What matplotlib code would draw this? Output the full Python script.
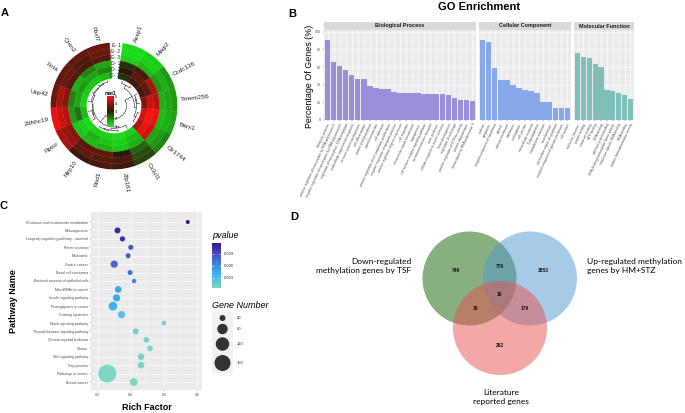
import numpy as np
import matplotlib
matplotlib.use('Agg')
import matplotlib.pyplot as plt
from matplotlib.colors import LinearSegmentedColormap, Normalize
from matplotlib.patches import Circle, Rectangle

plt.rcParams['font.family'] = ['Liberation Sans', 'DejaVu Sans']

W, H = 685, 413

# ---------------- data ----------------
# A: circular heatmap (tracks outer -> inner)
genes = ["Assp1", "Magi2", "Ccdc136", "Tmem256", "Barx1", "Olr1744", "Cx3cl1", "Zfp161",
         "Rnd1", "Nlrp10", "Rptor", "Zdhhc19", "Usp42", "Fnta", "Cntn2", "Fbxl7"]
tracks = ["E- 1", "E- 2", "E- 3", "D- 1", "D- 2", "D- 3"]
mat1 = [
    [1.2, 1.2, 1.3, 2.8, 3.0, 2.8],
    [1.3, 1.3, 1.5, 3.3, 3.5, 3.2],
    [1.8, 1.6, 1.8, 4.2, 3.5, 3.3],
    [1.8, 1.7, 1.6, 4.3, 4.5, 3.8],
    [1.7, 1.6, 1.5, 4.8, 5.0, 4.6],
    [2.0, 1.8, 1.7, 4.5, 4.8, 4.2],
    [2.6, 2.5, 2.3, 1.6, 1.5, 1.3],
    [3.2, 3.3, 3.0, 1.4, 1.3, 1.2],
    [3.3, 3.4, 3.5, 1.6, 1.4, 1.3],
    [3.2, 3.5, 3.4, 1.5, 1.6, 1.3],
    [4.2, 4.0, 3.8, 1.4, 1.3, 1.2],
    [4.8, 4.5, 4.3, 1.8, 2.2, 1.5],
    [3.6, 4.2, 3.9, 2.0, 1.7, 1.3],
    [3.5, 3.6, 3.4, 1.6, 1.8, 1.4],
    [3.5, 3.4, 3.3, 2.0, 1.7, 1.4],
    [3.6, 3.6, 3.4, 1.7, 2.0, 1.5],
]
gene_tree = [[[0, 1], [[2, 3], [4, 5]]], [[6, [7, [8, 9]]], [[10, 11], [12, [13, [14, 15]]]]]]

# B: GO enrichment
bp_terms = ["biological_process", "positive regulation of transcription by RNA polymerase II",
            "negative regulation of transcription by RNA polymerase II",
            "regulation of transcription, DNA-templated", "multicellular organism development",
            "nervous system development", "cell differentiation", "protein phosphorylation",
            "signal transduction", "cell adhesion", "positive regulation of cell population proliferation",
            "negative regulation of apoptotic process", "positive regulation of gene expression",
            "cell migration", "intracellular signal transduction", "angiogenesis",
            "cell surface receptor signaling pathway", "ion transmembrane transport", "axon guidance",
            "cellular response to insulin stimulus", "heart development", "regulation of cell shape",
            "positive regulation of GTPase activity", "protein ubiquitination",
            "transcription by RNA polymerase II"]
bp_vals = [91, 66, 61, 57, 51, 47, 46, 38, 36, 35, 35, 32, 31, 31, 31, 30.5, 30, 29.5, 29, 29,
           28, 24.5, 23, 22.5, 22]
cc_terms = ["nucleus", "cytoplasm", "integral component of membrane", "cytosol", "plasma membrane",
            "membrane", "nucleoplasm", "cell junction", "extracellular exosome", "Golgi apparatus",
            "endoplasmic reticulum", "mitochondrion", "perinuclear region of cytoplasm",
            "integral component of plasma membrane", "cell surface"]
cc_vals = [90.5, 88, 59, 45, 45, 40, 36.5, 34, 32.3, 31, 20.5, 20.5, 14, 14, 14]
mf_terms = ["molecular_function", "protein binding", "metal ion binding", "ATP binding", "DNA binding",
            "identical protein binding", "DNA-binding transcription factor activity",
            "sequence-specific DNA binding", "RNA binding", "protein homodimerization activity"]
mf_vals = [75.7, 71.5, 70.3, 64, 60, 34, 33, 31, 28.5, 24]

# C: KEGG dot plot
pathways = ["Nicotinate and nicotinamide metabolism", "Melanogenesis",
            "Longevity regulating pathway - mammal", "Renin secretion", "Melanoma", "Gastric cancer",
            "Basal cell carcinoma", "Bacterial invasion of epithelial cells", "MicroRNAs in cancer",
            "Insulin signaling pathway", "Proteoglycans in cancer", "Cushing syndrome",
            "Notch signaling pathway", "Thyroid hormone signaling pathway", "Chronic myeloid leukemia",
            "Glioma", "Wnt signaling pathway", "Gap junction", "Pathways in cancer", "Breast cancer"]
rich_factor = [0.572, 0.36, 0.375, 0.40, 0.392, 0.35, 0.398, 0.41, 0.362, 0.357, 0.346, 0.372,
               0.50, 0.415, 0.447, 0.458, 0.431, 0.431, 0.329, 0.409]
gene_number = [29, 40, 36, 34, 34, 49, 34, 31, 44, 49, 61, 49, 32, 40, 38, 38, 44, 44, 195, 55]
pvalue = [0.0117, 0.0105, 0.0102, 0.0085, 0.0082, 0.0078, 0.0072, 0.0062, 0.0045, 0.0042, 0.0040,
          0.0025, 0.0012, 0.0010, 0.0008, 0.0007, 0.0006, 0.0006, 0.0004, 0.0004]
size_breaks = [40, 80, 120, 160]
p_breaks = [0.003, 0.006, 0.009]

# D: Venn counts (membership: TSF, HM+STZ, literature)
venn_sets = ["Down-regulated\nmethylation genes by TSF", "Up-regulated methylation\ngenes by HM+STZ",
             "Literature\nreported genes"]
venn_counts = {(1, 0, 0): 749, (1, 1, 0): 776, (0, 1, 0): 3653, (1, 1, 1): 19,
               (1, 0, 1): 35, (0, 1, 1): 179, (0, 0, 1): 262}


def box(x0, y0, x1, y1):
    # pixel box (top-left origin) -> figure rect
    return [x0 / W, 1 - y1 / H, (x1 - x0) / W, (y1 - y0) / H]


fig = plt.figure(figsize=(W / 100, H / 100), dpi=100)

# ================= A =================
heat_cmap = LinearSegmentedColormap.from_list('gbr', ['#19f019', '#2a1a0c', '#ff1010'])
heat_norm = Normalize(1, 5)
vals = np.array(mat1)

cx, cy, R = 114, 106, 63.5
axA = fig.add_axes(box(cx - R, cy - R, cx + R, cy + R), projection='polar')
axA.set_theta_zero_location('N')
axA.set_theta_direction(-1)
axA.set_ylim(0, R)
axA.axis('off')

gap, start = 12, 8
sw = (360 - gap) / len(genes)
r_in, tw = 27.5, 6.0
for i, g in enumerate(genes):
    th = np.radians(start + i * sw)
    for j in range(len(tracks)):
        col = heat_cmap(heat_norm(vals[i, j]))
        axA.bar(th, tw, width=np.radians(sw), bottom=r_in + (len(tracks) - 1 - j) * tw,
                align='edge', color=col, edgecolor=col, linewidth=0.2)
    a = start + (i + 0.5) * sw
    if a < 180:
        rot, ha = 90 - a, 'left'
    else:
        rot, ha = 270 - a, 'right'
    axA.text(np.radians(a), 67, g, rotation=rot, rotation_mode='anchor', ha=ha, va='center',
             fontsize=4.6, color='#222222')

for j, lab in enumerate(tracks):
    axA.text(np.radians(start - gap / 2), r_in + (len(tracks) - 0.5 - j) * tw, lab,
             ha='center', va='center', fontsize=3.6, color='#222222')

# dendrogram inside
leaf_r, root_r = 26.0, 12.5


def members(node):
    return [node] if isinstance(node, int) else sum((members(k) for k in node), [])


def link_h(a, b):
    return np.mean([np.linalg.norm(vals[p] - vals[q]) for p in a for q in b])


hmax = link_h(members(gene_tree[0]), members(gene_tree[1]))


def draw_node(node):
    if isinstance(node, int):
        return start + (node + 0.5) * sw, leaf_r
    kids = [draw_node(k) for k in node]
    h = link_h(members(node[0]), members(node[1]))
    r = min(leaf_r - h / hmax * (leaf_r - root_r), min(k[1] for k in kids) - 0.8)
    for ka, kr in kids:
        axA.plot([np.radians(ka)] * 2, [kr, r], color='k', lw=0.35)
    t = np.radians(np.linspace(kids[0][0], kids[1][0], 40))
    axA.plot(t, np.full_like(t, r), color='k', lw=0.35)
    return np.mean([k[0] for k in kids]), r


draw_node(gene_tree)

axL = fig.add_axes(box(107, 96, 113, 126))
axL.imshow(np.linspace(5, 1, 100)[:, None], cmap=heat_cmap, norm=heat_norm, aspect='auto',
           extent=[0, 1, 1, 5])
axL.set_xticks([])
axL.yaxis.tick_right()
axL.set_yticks([1, 2, 3, 4, 5])
axL.tick_params(axis='y', labelsize=3, length=0.8, width=0.3, pad=0.5)
for s in axL.spines.values():
    s.set_visible(False)
axL.set_title("mat1", fontsize=3.6, weight='bold', pad=1)

fig.text(4.5 / W, 1 - 13.5 / H, "A", fontsize=8, weight='bold', ha='center', va='center')

# ================= B =================
fig.text(479 / W, 1 - 7 / H, "GO Enrichment", fontsize=8, weight='bold', ha='center', va='center')
fig.text(309 / W, 1 - 76 / H, "Percentage Of Genes (%)", fontsize=6.4, rotation=90,
         ha='center', va='center')
fig.text(292 / W, 1 - 14 / H, "B", fontsize=8, weight='bold', ha='center', va='center')

facets = [("Biological Process", bp_terms, bp_vals, '#9A8FD8', 324, 476),
          ("Cellular Component", cc_terms, cc_vals, '#87A9E9', 479, 571),
          ("Molecular Function", mf_terms, mf_vals, '#7FBFB9', 574, 634)]
for k, (name, terms, v, col, x0, x1) in enumerate(facets):
    ax = fig.add_axes(box(x0, 30, x1, 120))
    ax.set_facecolor('#EBEBEB')
    n = len(v)
    ax.bar(np.arange(n), v, width=0.9, color=col, zorder=3)
    ax.set_xlim(-0.6, n - 0.4)
    ax.set_ylim(0, 102)
    ax.set_yticks(range(0, 101, 20))
    ax.set_yticks(range(10, 100, 20), minor=True)
    ax.grid(which='major', color='white', lw=0.5)
    ax.grid(which='minor', axis='y', color='white', lw=0.25)
    ax.set_axisbelow(True)
    for s in ax.spines.values():
        s.set_visible(False)
    ax.set_xticks(np.arange(n))
    ax.set_xticklabels(terms, rotation=65, ha='right', rotation_mode='anchor', fontsize=2.3,
                       color='#4D4D4D')
    ax.tick_params(axis='x', length=1, width=0.3, pad=1, color='#333333')
    ax.tick_params(axis='y', which='both', length=1, width=0.3, pad=1, labelsize=2.5,
                   labelcolor='#4D4D4D', color='#333333')
    ax.tick_params(axis='y', which='minor', length=0)
    if k > 0:
        ax.tick_params(axis='y', which='both', length=0, labelleft=False)
    sax = fig.add_axes(box(x0, 22, x1, 30))
    sax.set_facecolor('#D9D9D9')
    sax.set_xticks([])
    sax.set_yticks([])
    for s in sax.spines.values():
        s.set_visible(False)
    sax.text(0.5, 0.5, name, ha='center', va='center', fontsize=4, weight='bold', color='#1A1A1A',
             transform=sax.transAxes)

# ================= C =================
p_cmap = LinearSegmentedColormap.from_list('pv', ['#7fd6c1', '#3aaef0', '#4360d0', '#3f0f80'])
p_norm = Normalize(min(pvalue), max(pvalue))


def dot_area(n):
    d_px = np.sqrt(np.clip(1.833 * np.asarray(n, dtype=float) - 37.3, 9, None))
    return (d_px * 0.72) ** 2


axC = fig.add_axes(box(91, 212, 202, 390))
axC.set_facecolor('#EBEBEB')
yy = np.arange(len(pathways))
axC.scatter(rich_factor, yy, s=dot_area(gene_number), c=pvalue, cmap=p_cmap, norm=p_norm,
            linewidths=0, zorder=3)
axC.set_xlim(0.28, 0.615)
axC.set_ylim(len(pathways) - 0.05, -1.19)
axC.set_yticks(yy)
axC.set_yticklabels(pathways, fontsize=2.5, color='#4D4D4D')
axC.set_xticks([0.3, 0.4, 0.5, 0.6])
axC.set_xticklabels(['0.3', '0.4', '0.5', '0.6'], fontsize=2.6, color='#4D4D4D')
axC.set_xticks([0.35, 0.45, 0.55], minor=True)
axC.grid(which='major', color='white', lw=0.5)
axC.grid(which='minor', axis='x', color='white', lw=0.25)
axC.set_axisbelow(True)
axC.tick_params(which='both', length=1, width=0.3, pad=1, color='#333333')
axC.tick_params(which='minor', length=0)
for s in axC.spines.values():
    s.set_visible(False)

fig.text(147 / W, 1 - 408 / H, "Rich Factor", fontsize=6.5, weight='bold', ha='center', va='center')
fig.text(13 / W, 1 - 301 / H, "Pathway Name", fontsize=6.5, weight='bold', rotation=90,
         ha='center', va='center')
fig.text(4 / W, 1 - 206 / H, "C", fontsize=8, weight='bold', ha='center', va='center')

# pvalue colorbar
fig.text(212 / W, 1 - 235 / H, "pvalue", fontsize=6.5, style='italic', ha='left', va='center')
axP = fig.add_axes(box(212, 243, 221, 288))
axP.imshow(np.linspace(max(pvalue), min(pvalue), 200)[:, None], cmap=p_cmap, norm=p_norm,
           aspect='auto', extent=[0, 1, min(pvalue), max(pvalue)])
axP.hlines(p_breaks, 0, 0.2, color='white', lw=0.4)
axP.hlines(p_breaks, 0.8, 1, color='white', lw=0.4)
axP.set_xticks([])
axP.yaxis.tick_right()
axP.set_yticks(p_breaks)
axP.set_yticklabels([f"{b:.3f}" for b in p_breaks])
axP.tick_params(axis='y', length=0, labelsize=3, pad=2, labelcolor='#333333')
for s in axP.spines.values():
    s.set_visible(False)

# size legend
fig.text(212 / W, 1 - 305 / H, "Gene Number", fontsize=6.5, style='italic', ha='left', va='center')
axS = fig.add_axes(box(205, 308, 260, 380))
axS.set_xlim(205, 260)
axS.set_ylim(380, 308)
axS.axis('off')
axS.add_patch(Rectangle((212, 312), 21, 61, color='#F2F2F2', lw=0))
key_y = [318, 329, 344, 363]
axS.scatter([222.5] * len(size_breaks), key_y, s=dot_area(size_breaks), color='#333333', lw=0)
for b, ky in zip(size_breaks, key_y):
    axS.text(237, ky, str(b), fontsize=3, va='center', ha='left', color='#333333')

# ================= D =================
axD = fig.add_axes(box(300, 200, 685, 413))
axD.set_xlim(300, 685)
axD.set_ylim(413, 200)
axD.axis('off')
centers = [(469.5, 278.5), (530, 278.5), (500, 328)]
rad = 47
colors = ['#116101', '#5199D1', '#E95151']
for (x, y), c in zip(centers, colors):
    axD.add_patch(Circle((x, y), rad, color=c, alpha=0.5, lw=0))

gx, gy = np.meshgrid(np.linspace(410, 590, 361), np.linspace(225, 380, 311))
inside = [((gx - x) ** 2 + (gy - y) ** 2 <= rad ** 2) for x, y in centers]
for key, cnt in venn_counts.items():
    mask = np.ones_like(gx, dtype=bool)
    for flag, m in zip(key, inside):
        mask &= m if flag else ~m
    axD.text(gx[mask].mean(), gy[mask].mean(), str(cnt), fontsize=3.5, weight='bold',
             ha='center', va='center', color='#111111')

lato = ['Lato', 'DejaVu Sans']
fig.text(411 / W, 1 - 266 / H, venn_sets[0], ha='right', va='center', fontsize=6, family=lato,
         linespacing=1.25)
fig.text(587 / W, 1 - 266 / H, venn_sets[1], ha='left', va='center', fontsize=6, family=lato,
         linespacing=1.25)
fig.text(501 / W, 1 - 397 / H, venn_sets[2], ha='center', va='center', fontsize=6, family=lato,
         linespacing=1.25)
fig.text(294 / W, 1 - 217 / H, "D", fontsize=8, weight='bold', ha='center', va='center')

fig.savefig('out.png', dpi=100)
